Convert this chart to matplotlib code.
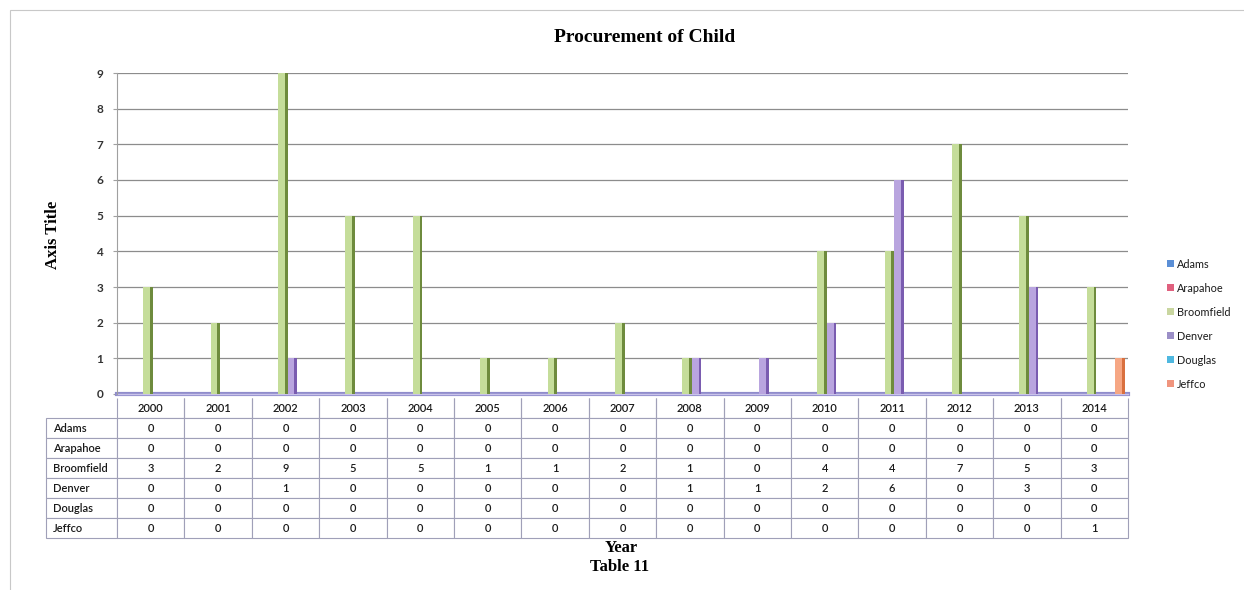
import matplotlib.pyplot as plt
from matplotlib.patches import Patch, Rectangle
import numpy as np

plt.rcParams['font.family'] = ['Lato', 'DejaVu Sans']

years = ['2000', '2001', '2002', '2003', '2004', '2005', '2006', '2007',
         '2008', '2009', '2010', '2011', '2012', '2013', '2014']
counties = ['Adams', 'Arapahoe', 'Broomfield', 'Denver', 'Douglas', 'Jeffco']

adams      = [0, 0, 0, 0, 0, 0, 0, 0, 0, 0, 0, 0, 0, 0, 0]
arapahoe   = [0, 0, 0, 0, 0, 0, 0, 0, 0, 0, 0, 0, 0, 0, 0]
broomfield = [3, 2, 9, 5, 5, 1, 1, 2, 1, 0, 4, 4, 7, 5, 3]
denver     = [0, 0, 1, 0, 0, 0, 0, 0, 1, 1, 2, 6, 0, 3, 0]
douglas    = [0, 0, 0, 0, 0, 0, 0, 0, 0, 0, 0, 0, 0, 0, 0]
jeffco     = [0, 0, 0, 0, 0, 0, 0, 0, 0, 0, 0, 0, 0, 0, 1]
series = [adams, arapahoe, broomfield, denver, douglas, jeffco]

# face / darker side colour of each column, plus the legend swatch colour
face = ['#7FA7D9', '#E07A8A', '#C5DD9A', '#B9A5DF', '#71C4E0', '#F6A784']
side = ['#3F6FB0', '#B04058', '#6E8B3D', '#7A5CB0', '#2F8FB0', '#D9703F']
swatch = ['#5B8FD6', '#E0607E', '#C9D6A0', '#9B8FC7', '#4FB8E0', '#F0957E']

W, H = 1244, 590
fig = plt.figure(figsize=(W / 100, H / 100), dpi=100)

# chart frame
fig.add_artist(Rectangle((10 / W, -0.05), 1.2, 1 - 10 / H + 0.05,
                         transform=fig.transFigure, fill=False,
                         edgecolor='#C8C8C8', lw=0.8))

ax_l, ax_r, ax_b, ax_t = 117, 1128, 394, 73
ax = fig.add_axes([ax_l / W, 1 - ax_b / H, (ax_r - ax_l) / W, (ax_b - ax_t) / H])

x = np.arange(len(years))
w = 0.14
shift = 0.03
for i, vals in enumerate(series):
    left = x + (i - 2.5) * w + shift - w / 2
    ax.bar(left, vals, width=w * 0.72, align='edge', color=face[i],
           edgecolor='none', zorder=3)
    ax.bar(left + w * 0.72, vals, width=w * 0.28, align='edge', color=side[i],
           edgecolor='none', zorder=3)

# floor of the chart
ax.axhline(0, color='#8F8CCB', lw=3, zorder=2, clip_on=False)
ax.axhline(0, color='#C9C3EA', lw=1, zorder=2, clip_on=False)

ax.set_xlim(-0.5, len(years) - 0.5)
ax.set_ylim(0, 9)
ax.set_yticks(range(10))
ax.set_xticks([])
ax.yaxis.grid(True, color='#8C8C8C', lw=0.9)
ax.set_axisbelow(True)
for s in ['top', 'right', 'bottom']:
    ax.spines[s].set_visible(False)
ax.spines['left'].set_color('#A0A0A0')
ax.spines['left'].set_linewidth(0.8)
ax.tick_params(axis='y', length=3, color='#A0A0A0', pad=7,
               labelsize=8.5, labelcolor='#333333')
for lbl in ax.get_yticklabels():
    lbl.set_fontweight('bold')

# data table under the columns
cells = [[str(v) for v in vals] for vals in series]
tab_top, tab_bot = 398, 538
ph = ax_b - ax_t
tbl = ax.table(cellText=cells, rowLabels=counties, colLabels=years,
               colWidths=[1 / len(years)] * len(years),
               cellLoc='center', rowLoc='left',
               bbox=[0, -(tab_bot - ax_b) / ph, 1, (tab_bot - tab_top) / ph])
tbl._autoColumns = []
tbl.auto_set_font_size(False)
tbl.set_fontsize(8)
label_w = 71 / (ax_r - ax_l)
for (r, c), cell in tbl.get_celld().items():
    cell.set_edgecolor('#A0A0B8')
    cell.set_linewidth(0.8)
    cell.get_text().set_color('#1A1A1A')
    cell.get_text().set_fontweight('semibold')
    if c == -1:
        cell.set_width(label_w)
    if r == 0:
        cell.visible_edges = 'BLR'

# legend
handles = [Patch(facecolor=c, edgecolor='none', label=n) for c, n in zip(swatch, counties)]
leg = fig.legend(handles=handles, loc='center left', bbox_to_anchor=(1163 / W, 1 - 324 / H),
                 frameon=False, fontsize=7.8, handlelength=0.6, handleheight=0.6,
                 handletextpad=0.3, labelspacing=1.2, borderaxespad=0)
for t in leg.get_texts():
    t.set_color('#1A1A1A')

serif = 'Liberation Serif'
fig.text(645 / W, 1 - 38 / H, 'Procurement of Child', ha='center', va='center',
         family=serif, fontweight='bold', fontsize=14)
fig.text(53 / W, 1 - 235 / H, 'Axis Title', ha='center', va='center', rotation=90,
         family=serif, fontweight='bold', fontsize=12)
fig.text(621 / W, 1 - 548 / H, 'Year', ha='center', va='center',
         family=serif, fontweight='bold', fontsize=12)
fig.text(620 / W, 1 - 567 / H, 'Table 11', ha='center', va='center',
         family=serif, fontweight='bold', fontsize=12)

fig.savefig('out.png', dpi=100)
